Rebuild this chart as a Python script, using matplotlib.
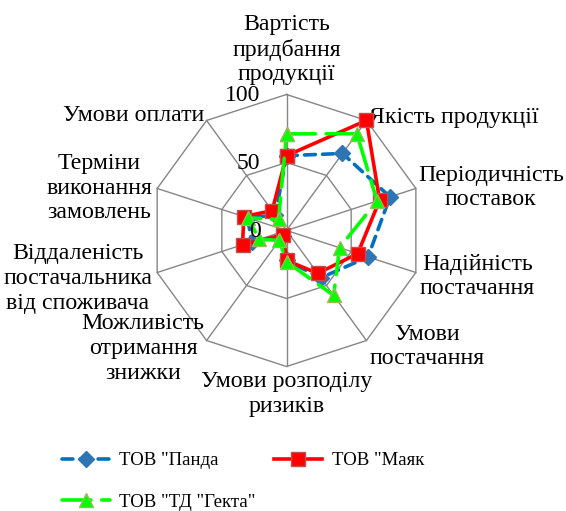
import numpy as np
import matplotlib
matplotlib.use('Agg')
import matplotlib.pyplot as plt

plt.rcParams['font.family'] = ['Liberation Serif', 'DejaVu Serif']

# категорії (за годинниковою стрілкою від верху)
categories = ['Вартість\nпридбання\nпродукції', 'Якість продукції',
              'Періодичність\nпоставок', 'Надійність\nпостачання',
              'Умови\nпостачання', 'Умови розподілу\nризиків',
              'Можливість\nотримання\nзнижки',
              'Віддаленість\nпостачальника\nвід споживача',
              'Терміни\nвиконання\nзамовлень', 'Умови оплати']
panda = [55, 70, 80, 63, 43, 22, 5, 27, 30, 14]
mayak = [55, 100, 72, 55, 39, 22, 4, 34, 33, 18]
hekta = [71, 88, 70, 41, 59, 23, 9, 21, 30, 10]
series_names = ['ТОВ "Панда', 'ТОВ "Маяк', 'ТОВ "ТД "Гекта"']
r_ticks = [0, 50, 100]

n = len(categories)
theta = np.arange(n) * 2 * np.pi / n
closed = np.append(theta, theta[0])

def close(v):
    return np.append(v, v[0])

fig = plt.figure(figsize=(5.66, 5.11), dpi=100)
ax = fig.add_axes([0.2659, 0.2828, 0.4806, 0.5323], projection='polar')
ax.set_theta_zero_location('N')
ax.set_theta_direction(-1)
ax.set_ylim(0, 100)
ax.grid(False)
ax.spines['polar'].set_visible(False)
ax.set_xticks([])
ax.set_yticks([])
ax.patch.set_visible(False)

grid_c = '#868686'
for r in r_ticks[1:]:
    ax.plot(closed, [r] * (n + 1), color=grid_c, lw=1.0, zorder=1, clip_on=False)
for t in theta:
    ax.plot([t, t], [0, 100], color=grid_c, lw=1.0, zorder=1, clip_on=False)

# ряди
ax.plot(closed, close(panda), color='#0070C0', lw=2.6, ls=(0, (3, 2)),
        dash_capstyle='round', marker='D', ms=8.5, mfc='#2E75B6', mec='#2E75B6',
        zorder=3, clip_on=False, label=series_names[0])
ax.plot(closed, close(mayak), color='#FF0000', lw=2.6, ls='-',
        marker='s', ms=10, mfc='#FF0000', mec='#C0504D',
        zorder=4, clip_on=False, label=series_names[1])
ax.plot(closed, close(hekta), color='#00FF00', lw=2.6, ls=(0, (8, 3)),
        dash_capstyle='round', marker='^', ms=10, mfc='#00FF00', mec='#9BBB59',
        zorder=5, clip_on=False, label=series_names[2])

# підписи шкали
for v in r_ticks:
    ax.annotate(str(v), xy=(0, v), xytext=(-26, -1), textcoords='offset pixels',
                ha='right', va='center', fontsize=17, zorder=6)

# підписи категорій
lab_pos = [
    ('center', 'bottom', 0, 9),
    ('left', 'center', 3, 3),
    ('left', 'center', 2, 1),
    ('left', 'center', 4, -4),
    ('left', 'center', 3, -6),
    ('center', 'top', 0, -5),
    ('right', 'center', -2, -8),
    ('right', 'center', -5, -6),
    ('right', 'center', -5, 0),
    ('right', 'center', -2, 5),
]
for t, lab, (ha, va, dx, dy) in zip(theta, categories, lab_pos):
    ax.annotate(lab, xy=(t, 100), xytext=(dx, dy), textcoords='offset pixels',
                ha=ha, va=va, multialignment='center', fontsize=17.2,
                linespacing=1.22, annotation_clip=False)

h, l = ax.get_legend_handles_labels()
order = [0, 2, 1]
fig.legend([h[i] for i in order], [l[i] for i in order], ncol=2,
           loc='upper left', bbox_to_anchor=(62 / 566, 1 - 452 / 511),
           frameon=False, fontsize=13.5, handlelength=2.55,
           handletextpad=0.5, columnspacing=1.0, labelspacing=1.3,
           borderpad=0, borderaxespad=0)

fig.savefig('out.png', dpi=100)
